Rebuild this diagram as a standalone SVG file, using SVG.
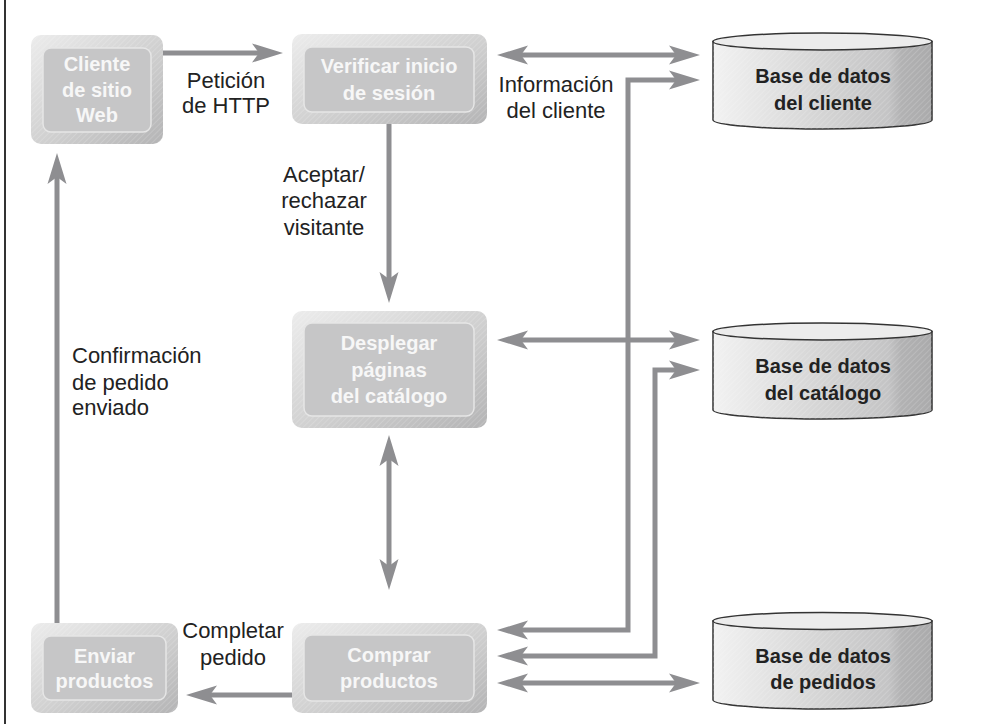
<svg xmlns="http://www.w3.org/2000/svg" width="1001" height="724" viewBox="0 0 1001 724">
<style>
.lbl{font-family:"Liberation Sans",Arial,sans-serif;font-size:22px;fill:#222}
.nt{font-family:"Liberation Sans",Arial,sans-serif;font-size:20px;font-weight:bold;fill:#f7f7f7;text-anchor:middle}
.dt{font-family:"Liberation Sans",Arial,sans-serif;font-size:20px;font-weight:bold;fill:#222;text-anchor:middle}
.outer{fill:url(#boxg)}
.hat{fill:url(#hatch)}
.inner{fill:#c6c6c7;stroke:#e6e6e6;stroke-width:1.5}
.conn{fill:none;stroke:#8e8e91;stroke-width:5}
.cylb{fill:url(#cylg);stroke:#333;stroke-width:1.5}
.cylt{fill:#ececec;stroke:#333;stroke-width:1.5}
</style>
<defs>
<linearGradient id="boxg" x1="0" y1="0" x2="1" y2="1">
<stop offset="0" stop-color="#ececec"/>
<stop offset="0.5" stop-color="#d2d2d2"/>
<stop offset="1" stop-color="#b4b4b5"/>
</linearGradient>
<linearGradient id="cylg" x1="0" y1="0" x2="1" y2="0">
<stop offset="0" stop-color="#f2f2f2"/>
<stop offset="0.5" stop-color="#d4d4d4"/>
<stop offset="0.8" stop-color="#c4c4c5"/>
<stop offset="0.86" stop-color="#b2b2b3"/>
<stop offset="1" stop-color="#aaaaab"/>
</linearGradient>
<pattern id="hatch" width="4" height="4" patternUnits="userSpaceOnUse" patternTransform="rotate(45)">
<line x1="0" y1="0" x2="0" y2="4" stroke="#ffffff" stroke-opacity="0.3" stroke-width="1"/>
</pattern>
<marker id="ah" markerUnits="userSpaceOnUse" viewBox="-10 -12 40 24" refX="0" refY="0" markerWidth="40" markerHeight="24" orient="auto-start-reverse">
<path d="M24,0 L-7,-9.5 L0,0 L-7,9.5 Z" fill="#8e8e91"/>
</marker>
</defs>
<line x1="5" y1="0" x2="5" y2="724" stroke="#333" stroke-width="2"/>
<g id="connectors">
<path class="conn" d="M163,53 H259" marker-end="url(#ah)"/>
<path class="conn" d="M521,55 H676" marker-start="url(#ah)" marker-end="url(#ah)"/>
<path class="conn" d="M521,630 H628 V80 H676" marker-start="url(#ah)" marker-end="url(#ah)"/>
<path class="conn" d="M521,340 H676" marker-start="url(#ah)" marker-end="url(#ah)"/>
<path class="conn" d="M521,656 H655 V370 H676" marker-start="url(#ah)" marker-end="url(#ah)"/>
<path class="conn" d="M521,683 H676" marker-start="url(#ah)" marker-end="url(#ah)"/>
<path class="conn" d="M389,124 V279" marker-end="url(#ah)"/>
<path class="conn" d="M389,459 V566" marker-start="url(#ah)" marker-end="url(#ah)"/>
<path class="conn" d="M292,695 H210" marker-end="url(#ah)"/>
<path class="conn" d="M57,623 V177" marker-end="url(#ah)"/>
</g>
<g id="labels">
<text class="lbl" text-anchor="middle"><tspan x="226" y="88">Petición</tspan><tspan x="226" y="113">de HTTP</tspan></text>
<text class="lbl" text-anchor="middle"><tspan x="556" y="92">Información</tspan><tspan x="556" y="118">del cliente</tspan></text>
<text class="lbl" text-anchor="middle"><tspan x="324" y="182">Aceptar/</tspan><tspan x="324" y="208">rechazar</tspan><tspan x="324" y="235">visitante</tspan></text>
<text class="lbl"><tspan x="72" y="363">Confirmación</tspan><tspan x="72" y="390">de pedido</tspan><tspan x="72" y="415">enviado</tspan></text>
<text class="lbl" text-anchor="middle"><tspan x="233" y="638">Completar</tspan><tspan x="233" y="665">pedido</tspan></text>
</g>
<g id="cliente">
<rect class="outer" x="31" y="35" width="132" height="109" rx="10"/>
<rect class="hat" x="31" y="35" width="132" height="109" rx="10"/>
<rect class="inner" x="43" y="48" width="108" height="84" rx="8"/>
<text class="nt"><tspan x="97" y="71">Cliente</tspan><tspan x="97" y="97">de sitio</tspan><tspan x="97" y="122">Web</tspan></text>
</g>
<g id="verificar">
<rect class="outer" x="292" y="34" width="195" height="90" rx="10"/>
<rect class="hat" x="292" y="34" width="195" height="90" rx="10"/>
<rect class="inner" x="304" y="47" width="170" height="65" rx="8"/>
<text class="nt"><tspan x="389" y="73">Verificar inicio</tspan><tspan x="389" y="100">de sesión</tspan></text>
</g>
<g id="desplegar">
<rect class="outer" x="292" y="311" width="195" height="117" rx="10"/>
<rect class="hat" x="292" y="311" width="195" height="117" rx="10"/>
<rect class="inner" x="304" y="323" width="170" height="93" rx="8"/>
<text class="nt"><tspan x="389" y="350">Desplegar</tspan><tspan x="389" y="377">páginas</tspan><tspan x="389" y="403">del catálogo</tspan></text>
</g>
<g id="comprar">
<rect class="outer" x="292" y="623" width="195" height="90" rx="10"/>
<rect class="hat" x="292" y="623" width="195" height="90" rx="10"/>
<rect class="inner" x="304" y="635" width="170" height="66" rx="8"/>
<text class="nt"><tspan x="389" y="662">Comprar</tspan><tspan x="389" y="688">productos</tspan></text>
</g>
<g id="enviar">
<rect class="outer" x="31" y="623" width="147" height="90" rx="10"/>
<rect class="hat" x="31" y="623" width="147" height="90" rx="10"/>
<rect class="inner" x="43" y="636" width="123" height="64" rx="8"/>
<text class="nt"><tspan x="104.5" y="663">Enviar</tspan><tspan x="104.5" y="688">productos</tspan></text>
</g>
<g id="db-cliente">
<path class="cylb" d="M713,41.5 V120 A109.5,9 0 0 0 932,120 V41.5 Z"/>
<path class="hat" d="M713,41.5 V120 A109.5,9 0 0 0 932,120 V41.5 Z"/>
<ellipse class="cylt" cx="822.5" cy="41.5" rx="109.5" ry="8.5"/>
<text class="dt"><tspan x="823" y="83">Base de datos</tspan><tspan x="823" y="110">del cliente</tspan></text>
</g>
<g id="db-catalogo">
<path class="cylb" d="M713,331.5 V410 A109.5,9 0 0 0 932,410 V331.5 Z"/>
<path class="hat" d="M713,331.5 V410 A109.5,9 0 0 0 932,410 V331.5 Z"/>
<ellipse class="cylt" cx="822.5" cy="331.5" rx="109.5" ry="8.5"/>
<text class="dt"><tspan x="823" y="373">Base de datos</tspan><tspan x="823" y="400">del catálogo</tspan></text>
</g>
<g id="db-pedidos">
<path class="cylb" d="M713,621 V700 A109.5,9 0 0 0 932,700 V621 Z"/>
<path class="hat" d="M713,621 V700 A109.5,9 0 0 0 932,700 V621 Z"/>
<ellipse class="cylt" cx="822.5" cy="621" rx="109.5" ry="8.5"/>
<text class="dt"><tspan x="823" y="663">Base de datos</tspan><tspan x="823" y="689">de pedidos</tspan></text>
</g>
</svg>
